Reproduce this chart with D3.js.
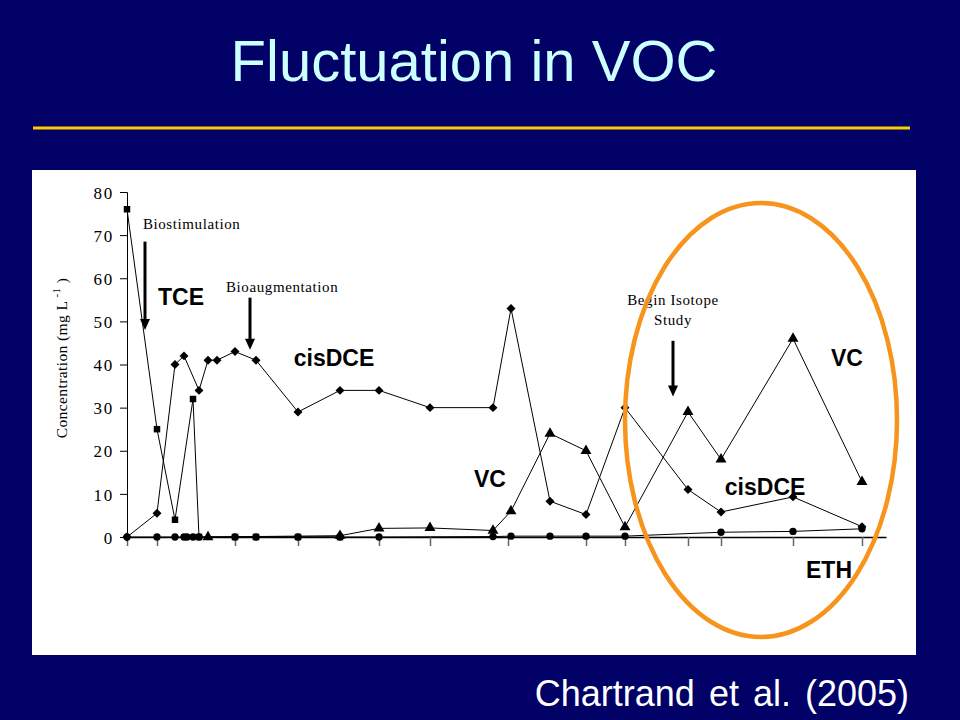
<!DOCTYPE html>
<html><head><meta charset="utf-8">
<script src="https://cdn.jsdelivr.net/npm/d3@7"></script>
<style>html,body{margin:0;padding:0;background:#000066;}svg{display:block;}</style>
</head><body>
<script>
// ---- data (x = day of study, estimated; y = concentration mg/L) ----
const tceDays  = [0, 10, 16, 22, 24, 36, 43, 57, 71];
const tceVals  = [76, 25, 4, 32, 0, 0, 0, 0, 0];
const dceDays  = [0, 10, 16, 19, 24, 27, 30, 36, 43, 57, 71, 84, 101, 122, 128, 141, 153, 166, 187, 198, 222, 245];
const dceVals  = [0, 5.5, 40, 42, 34, 41, 41, 43, 41, 29, 34, 34, 30, 30, 53, 8.3, 5.2, 30, 11, 5.8, 9.3, 2.4];
const vcDays   = [27, 71, 84, 101, 122, 128, 141, 153, 166, 187, 198, 222, 245];
const vcVals   = [0, 0.3, 2, 2.1, 1.5, 6, 24, 20, 2.3, 29, 18, 46, 12.8];
const ethDays  = [0, 10, 16, 19, 20, 22, 24, 36, 43, 57, 71, 84, 122, 128, 141, 153, 166, 198, 222, 245];
const ethVals  = [0, 0, 0, 0, 0, 0, 0, 0, 0, 0, 0, 0, 0.1, 0.2, 0.2, 0.2, 0.2, 1.1, 1.3, 1.9];
const xTickDays = [0, 10, 36, 57, 84, 101, 127, 153, 166, 187, 198, 222, 245];
const yTicks = [0, 10, 20, 30, 40, 50, 60, 70, 80];
const seriesLabels = [
  {t: "TCE", d: 18, v: 53.8},
  {t: "cisDCE", d: 69, v: 39.6},
  {t: "VC", d: 121, v: 11.6},
  {t: "VC", d: 240, v: 39.6},
  {t: "cisDCE", d: 212.7, v: 9.7},
  {t: "ETH", d: 234, v: -9.5}
];
const arrows = [
  {t: ["Biostimulation"], d: 6, top: 68.5, bottom: 48, td: 5.3, tv: 71.4},
  {t: ["Bioaugmentation"], d: 41, top: 55.5, bottom: 43.4, td: 33, tv: 56.8},
  {t: ["Begin Isotope", "Study"], d: 182, top: 45.5, bottom: 32.6, td: 182, tv: 53.8}
];

const W = 960, H = 720;
const serif = "Liberation Serif, Times New Roman, serif";
const sans = "Liberation Sans, Arial, sans-serif";
const svg = d3.select("body").append("svg").attr("width", W).attr("height", H);
svg.append("rect").attr("width", W).attr("height", H).attr("fill", "#000066");

// title
svg.append("text").attr("x", 474).attr("y", 81).attr("text-anchor", "middle")
  .attr("font-family", sans).attr("font-size", 58)
  .attr("fill", "#ccffff").text("Fluctuation in VOC");
svg.append("rect").attr("x", 33).attr("y", 126.5).attr("width", 877).attr("height", 3).attr("fill", "#ffcc00");

// white panel
svg.append("rect").attr("x", 32).attr("y", 170).attr("width", 884).attr("height", 485).attr("fill", "#ffffff");

const x = d3.scaleLinear().domain([0, 253]).range([127, 886]);
const y = d3.scaleLinear().domain([0, 80]).range([537, 192]);

// axes
const yAxis = svg.append("g").attr("transform", "translate(127,0)")
  .call(d3.axisLeft(y).tickValues(yTicks).tickSize(7).tickPadding(6));
yAxis.select(".domain").attr("stroke", "#000");
yAxis.selectAll("text").attr("font-family", serif).attr("font-size", 17)
  .attr("letter-spacing", 1.8).attr("fill", "#000").attr("dy", "0.36em");

const xAxis = svg.append("g").attr("transform", "translate(0,537)")
  .call(d3.axisBottom(x).tickValues(xTickDays).tickSize(9).tickSizeOuter(0).tickFormat(""));
xAxis.select(".domain").attr("stroke", "#000").attr("stroke-width", 1.5);
xAxis.selectAll(".tick line").attr("stroke", "#666").attr("stroke-width", 1.5);

svg.append("text").attr("transform", "translate(67,358) rotate(-90)").attr("text-anchor", "middle")
  .attr("font-family", serif).attr("font-size", 15.5).attr("letter-spacing", 0.4).attr("fill", "#000")
  .html('Concentration (mg L<tspan dy="-7" font-size="11"> -1</tspan><tspan dy="7"> )</tspan>');

const line = d3.line().x(d => x(d[0])).y(d => y(d[1]));
function series(days, vals, sym, size, rot) {
  const pts = days.map((d, i) => [d, vals[i]]);
  svg.append("path").attr("d", line(pts)).attr("fill", "none").attr("stroke", "#000").attr("stroke-width", 1);
  svg.append("g").selectAll("path").data(pts).join("path")
    .attr("transform", d => `translate(${x(d[0])},${y(d[1])}) rotate(${rot})`)
    .attr("d", d3.symbol().type(sym).size(size)).attr("fill", "#000");
}
series(ethDays, ethVals, d3.symbolCircle, 42, 0);
series(tceDays, tceVals, d3.symbolSquare, 42, 0);
series(vcDays, vcVals, d3.symbolTriangle, 52, 0);
series(dceDays, dceVals, d3.symbolSquare, 40, 45);

// annotations
arrows.forEach(a => {
  a.t.forEach((s, i) => {
    svg.append("text").attr("x", x(a.td)).attr("y", y(a.tv) + i * 20)
      .attr("text-anchor", a.t.length > 1 ? "middle" : "start")
      .attr("font-family", serif).attr("font-size", 15).attr("letter-spacing", 0.6).attr("fill", "#000").text(s);
  });
  const xp = x(a.d), y0 = y(a.top), y1 = y(a.bottom);
  svg.append("line").attr("x1", xp).attr("x2", xp).attr("y1", y0).attr("y2", y1 - 8).attr("stroke", "#000").attr("stroke-width", 3);
  svg.append("path").attr("d", `M${xp - 5},${y1 - 11}L${xp + 5},${y1 - 11}L${xp},${y1}Z`).attr("fill", "#000");
});

seriesLabels.forEach(l => {
  svg.append("text").attr("x", x(l.d)).attr("y", y(l.v)).attr("text-anchor", "middle")
    .attr("font-family", sans).attr("font-weight", "bold").attr("font-size", 23)
    .attr("fill", "#000").text(l.t);
});

// orange highlight ellipse
svg.append("ellipse").attr("cx", 761).attr("cy", 420).attr("rx", 136).attr("ry", 217)
  .attr("fill", "none").attr("stroke", "#f7941d").attr("stroke-width", 4.5);

svg.append("text").attr("x", 909).attr("y", 706).attr("text-anchor", "end")
  .attr("font-family", sans).attr("font-size", 36).attr("fill", "#ffffff")
  .attr("word-spacing", 4).text("Chartrand et al. (2005)");
</script>
</body></html>
